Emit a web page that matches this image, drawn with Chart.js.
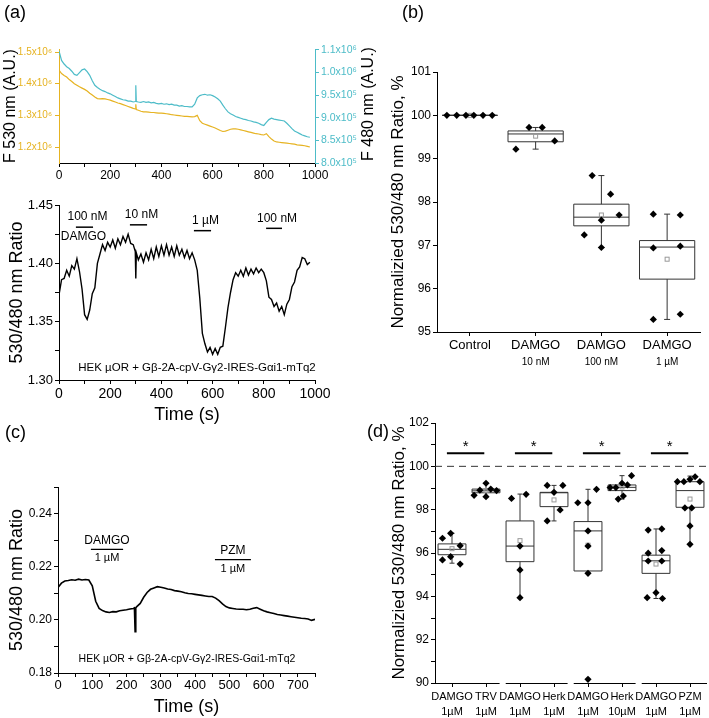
<!DOCTYPE html>
<html>
<head>
<meta charset="utf-8">
<script src="https://cdn.jsdelivr.net/npm/chart.js@4.4.1/dist/chart.umd.min.js"></script>
<style>
body { margin: 0; background: #fff; }
#wrap { position: relative; width: 709px; height: 718px; }
#wrap canvas { position: absolute; left: 0; top: 0; }
</style>
</head>
<body>
<div id="wrap">
  <canvas id="aTop" width="709" height="718"></canvas>
  <canvas id="aBot" width="709" height="718"></canvas>
  <canvas id="bBox" width="709" height="718"></canvas>
  <canvas id="cTrace" width="709" height="718"></canvas>
  <canvas id="dBox" width="709" height="718"></canvas>
</div>
<script>
// ---- panel (a): time course, 530 / 480 channels and ratio ----
var timeA = [0,10,20,30,40,50,60,70,80,90,100,110,120,130,140,150,160,170,180,190,
  200,210,220,230,240,250,260,270,280,290,298,300,302,310,320,330,340,350,360,370,
  380,390,400,410,420,430,440,450,460,470,480,490,500,510,520,530,540,550,560,570,
  580,590,600,610,620,630,640,650,660,670,680,690,700,710,720,730,740,750,760,770,
  780,790,800,810,820,830,840,850,860,870,880,890,900,910,920,930,940,950,960,970,980];
var f530 = [1.443,1.432,1.426,1.421,1.413,1.407,1.400,1.395,1.390,1.386,
  1.382,1.377,1.370,1.364,1.358,1.353,1.352,1.353,1.352,1.350,
  1.348,1.345,1.342,1.339,1.337,1.334,1.331,1.328,1.325,1.322,
  1.320,1.335,1.318,
  1.316,1.313,1.311,1.311,1.310,1.309,1.309,1.308,1.307,1.307,
  1.306,1.305,1.304,1.302,1.301,1.300,1.299,1.298,1.297,1.297,
  1.296,1.295,1.296,1.300,1.283,1.275,1.272,1.269,1.266,1.263,
  1.260,1.256,1.252,1.249,1.250,1.253,1.256,1.257,1.257,1.256,
  1.254,1.252,1.250,1.248,1.246,1.244,1.242,1.241,1.239,1.238,
  1.242,1.233,1.225,1.219,1.216,1.215,1.214,1.213,1.212,1.211,
  1.210,1.209,1.207,1.206,1.205,1.204,1.202,1.200];
var f480 = [1.048,1.027,1.019,1.013,1.009,1.003,0.996,0.994,1.000,1.006,
  1.008,1.002,0.994,0.982,0.972,0.967,0.963,0.960,0.958,0.955,
  0.953,0.950,0.947,0.944,0.942,0.940,0.939,0.937,0.937,0.935,
  0.936,0.972,0.936,
  0.935,0.934,0.936,0.934,0.935,0.933,0.934,0.932,0.931,0.932,
  0.930,0.931,0.929,0.930,0.928,0.928,0.926,0.927,0.925,0.925,
  0.924,0.924,0.930,0.944,0.949,0.951,0.952,0.950,0.951,0.949,
  0.946,0.942,0.937,0.928,0.920,0.913,0.909,0.906,0.903,0.901,
  0.899,0.897,0.896,0.894,0.893,0.891,0.890,0.888,0.885,0.883,
  0.890,0.896,0.899,0.897,0.896,0.895,0.894,0.893,0.888,0.882,
  0.876,0.871,0.868,0.865,0.862,0.860,0.858,0.857];
var ratioA = [1.373,1.386,1.387,1.394,1.389,1.398,1.395,1.404,1.393,1.378,
  1.356,1.352,1.360,1.374,1.379,1.400,1.408,1.416,1.411,1.418,
  1.414,1.420,1.413,1.421,1.416,1.423,1.418,1.425,1.417,1.416,
  1.410,1.387,1.409,
  1.403,1.408,1.401,1.409,1.403,1.412,1.404,1.414,1.406,1.415,
  1.407,1.416,1.407,1.414,1.406,1.415,1.407,1.412,1.405,1.411,
  1.404,1.409,1.403,1.394,1.370,1.340,1.331,1.324,1.328,1.322,
  1.327,1.322,1.328,1.329,1.345,1.362,1.375,1.386,1.392,1.389,
  1.394,1.389,1.396,1.390,1.395,1.391,1.396,1.392,1.395,1.392,
  1.385,1.371,1.369,1.363,1.366,1.359,1.363,1.356,1.365,1.369,
  1.380,1.384,1.394,1.397,1.405,1.404,1.399,1.401];

var aXTicks = [0,100,200,300,400,500,600,700,800,900,1000];
var aXLabels = ['0','','200','','400','','600','','800','','1000'];
var a530Ticks = [1.2,1.3,1.4,1.5];
var a530Labels = ['1.2x10\u2076','1.3x10\u2076','1.4x10\u2076','1.5x10\u2076'];
var a480Ticks = [0.8,0.85,0.9,0.95,1.0,1.05];
var a480Labels = ['8.0x10\u2075','8.5x10\u2075','9.0x10\u2075','9.5x10\u2075','1.0x10\u2076','1.1x10\u2076'];
var aRatioTicks = [1.30,1.325,1.35,1.375,1.40,1.425,1.45];
var aRatioLabels = ['1.30','','1.35','','1.40','','1.45'];

var drugA = ['100 nM','10 nM','1 \u00b5M','100 nM'];
var drugAStart = [66,277,527,809];
var drugAEnd = [133,344,594,871];
var drugALevel = [1.431,1.433,1.428,1.430];

// ---- panel (b): box plots ----
var bNames = ['Control','DAMGO','DAMGO','DAMGO'];
var bConc = ['','10 nM','100 nM','1 \u00b5M'];
var bQ1 = [100,99.39,97.45,96.22];
var bMed = [100,99.57,97.65,96.96];
var bQ3 = [100,99.64,97.95,97.11];
var bLo = [100,99.22,96.95,95.29];
var bHi = [100,99.72,98.61,97.72];
var bMean = [100,99.52,97.70,96.68];
var bVals = [[100,100,100,100,100,100],[99.72,99.72,99.22,99.41],
  [98.61,98.18,97.70,97.58,97.24,96.95],[97.72,97.70,96.94,96.98,95.29,95.41]];
var bJitter = [[-0.35,-0.2,-0.06,0.06,0.2,0.34],[-0.1,0.1,-0.3,0.29],
  [-0.14,0.14,0.27,0,-0.26,0],[-0.21,0.2,-0.21,0.2,-0.21,0.2]];
var bYTicks = [95,96,97,98,99,100,101];

// ---- panel (c): time course ----
var timeC = [0,10,20,30,40,50,60,70,80,90,100,110,120,130,140,150,160,170,180,190,200,210,220,
  223,225,227,230,240,250,260,270,280,290,300,310,320,330,340,350,360,370,380,390,400,410,420,
  430,440,450,460,470,480,490,500,510,520,530,540,550,560,570,580,590,600,610,620,
  630,640,650,660,670,680,690,700,710,720,730,740,750];
var ratioC = [0.2122,0.2138,0.2146,0.2148,0.2151,0.2149,0.2153,0.2150,0.2152,0.2150,
  0.2128,0.2070,0.2043,0.2035,0.2030,0.2028,0.2031,0.2030,0.2034,0.2036,
  0.2038,0.2041,0.2043,
  0.2045,0.1955,0.2045,
  0.2050,0.2062,0.2085,0.2103,0.2115,0.2120,0.2125,0.2123,0.2120,0.2116,
  0.2114,0.2110,0.2108,0.2106,0.2102,0.2099,0.2098,0.2096,0.2094,0.2092,
  0.2090,0.2088,0.2088,0.2082,0.2072,0.2060,0.2050,0.2045,0.2043,0.2041,
  0.2040,0.2040,0.2038,0.2040,0.2044,0.2046,0.2040,0.2034,0.2030,0.2027,
  0.2024,0.2020,0.2018,0.2016,0.2014,0.2012,0.2010,0.2008,0.2006,0.2005,
  0.2003,0.1998,0.2002];
var cXTicks = [0,50,100,150,200,250,300,350,400,450,500,550,600,650,700,750];
var cXLabels = ['0','','100','','200','','300','','400','','500','','600','','700',''];
var cYTicks = [0.18,0.19,0.20,0.21,0.22,0.23,0.24,0.25];
var cYLabels = ['0.18','','0.20','','0.22','','0.24',''];
var drugC = ['DAMGO','PZM'];
var drugCConc = ['1 \u00b5M','1 \u00b5M'];
var drugCStart = [96,458];
var drugCEnd = [190,563];
var drugCLevel = [0.2265,0.2227];

// ---- panel (d): paired box plots ----
var dDrug = ['DAMGO','TRV','DAMGO','Herk','DAMGO','Herk','DAMGO','PZM'];
var dConc = ['1\u00b5M','1\u00b5M','1\u00b5M','1\u00b5M','1\u00b5M','10\u00b5M','1\u00b5M','1\u00b5M'];
var dQ1 = [95.92,98.78,95.60,98.14,95.17,98.88,95.06,98.11];
var dMed = [96.17,98.87,96.32,98.78,97.02,99.03,95.64,98.88];
var dQ3 = [96.42,98.95,97.48,98.80,97.45,99.14,95.90,99.29];
var dLo = [95.53,98.60,93.94,97.48,95.06,98.49,93.90,96.40];
var dHi = [96.91,99.22,98.72,99.12,98.94,99.57,97.11,99.55];
var dMean = [96.20,98.88,96.57,98.45,96.36,99.05,95.49,98.49];
var dVals = [[96.68,96.91,96.34,95.68,95.83,95.49],
  [99.22,98.90,98.95,98.88,98.66,98.60],
  [98.52,98.71,96.32,95.22,93.94],
  [99.12,98.80,99.12,97.99,97.48],
  [98.32,98.32,98.94,97.02,96.32,95.06,90.17],
  [99.02,99.02,99.22,99.14,99.57,98.49,98.63],
  [97.06,97.11,95.99,96.11,95.63,95.63,93.94,94.17,93.90],
  [99.29,99.29,99.40,99.52,99.29,98.08,98.08,97.25,96.40]];
var dJitter = [[-0.28,-0.04,0.24,-0.28,-0.04,0.24],
  [0,-0.18,0.14,0.31,-0.35,0],
  [-0.25,0.18,0,0,0],
  [-0.2,0,0.26,0.18,-0.2],
  [-0.3,0,0.25,0,0,0,0],
  [-0.35,-0.18,0,0.16,0.28,-0.11,0.04],
  [-0.23,0.17,-0.23,0.17,-0.23,0.17,-0.26,0,0.19],
  [-0.37,-0.18,0,0.15,0.29,-0.15,0.05,0,0]];
var dPairs = [[0,1],[2,3],[4,5],[6,7]];
var dSigLevel = 100.6;
var dYTicks = [90,91,92,93,94,95,96,97,98,99,100,101,102];

var YEL = '#e6b322';
var CYAN = '#4dbcc8';
var SANS = "'Liberation Sans', Arial, sans-serif";
var NARROW = "'Liberation Sans Narrow', 'Liberation Sans', Arial, sans-serif";
var W = 709, H = 718;

function pairs(xs, ys) {
  return xs.map(function (x, i) { return { x: x, y: ys[i] }; });
}

function pad(area, leftW, bottomH, rightW) {
  return { left: area[0] - leftW, top: area[1], right: W - area[2] - (rightW || 0), bottom: H - area[3] - bottomH };
}

function scale(o) {
  var c = o.color || '#000';
  return {
    type: 'linear', position: o.pos, min: o.min, max: o.max,
    afterBuildTicks: function (s) {
      s.ticks = o.ticks.map(function (v) { return { value: v }; });
    },
    afterFit: function (s) {
      if (o.pos === 'bottom') { s.height = o.size; s.paddingLeft = 0; s.paddingRight = 0; }
      else { s.width = o.size; s.paddingTop = 0; s.paddingBottom = 0; }
    },
    grid: { drawOnChartArea: false, drawTicks: true, tickLength: 4, color: c, tickColor: c },
    border: { display: o.border !== false, color: c, width: 1 },
    ticks: {
      color: c, font: o.font, padding: o.tpad == null ? 2 : o.tpad,
      autoSkip: false, maxRotation: 0, minRotation: 0,
      callback: function (v, i) { return o.labels[i]; }
    },
    title: o.title ? { display: true, text: o.title, color: '#000', font: o.tfont, padding: 0 } : { display: false }
  };
}

function base(extra) {
  var o = {
    responsive: false, animation: false, events: [],
    plugins: { legend: { display: false }, tooltip: { enabled: false } },
    elements: { point: { radius: 0 }, line: { borderWidth: 1.2, tension: 0 } }
  };
  for (var k in extra) o[k] = extra[k];
  return o;
}

function letter(ctx, txt, x, y) {
  ctx.save();
  ctx.fillStyle = '#000';
  ctx.font = '18px ' + SANS;
  ctx.textAlign = 'left';
  ctx.textBaseline = 'middle';
  ctx.fillText(txt, x, y);
  ctx.restore();
}

// box drawing shared by (b) and (d)
function boxPlugin(st, half, cap) {
  return {
    id: 'boxes',
    beforeDatasetsDraw: function (chart) {
      var ctx = chart.ctx, xs = chart.scales.x, ys = chart.scales.y;
      ctx.save();
      ctx.strokeStyle = '#333';
      ctx.lineWidth = 1;
      st.q1.forEach(function (q1, i) {
        var cx = xs.getPixelForValue(i);
        var l = xs.getPixelForValue(i - half), r = xs.getPixelForValue(i + half);
        var y1 = ys.getPixelForValue(q1), y3 = ys.getPixelForValue(st.q3[i]);
        var ym = ys.getPixelForValue(st.med[i]);
        var ylo = ys.getPixelForValue(st.lo[i]), yhi = ys.getPixelForValue(st.hi[i]);
        ctx.beginPath();
        ctx.rect(l, y3, r - l, y1 - y3);
        ctx.moveTo(l, ym); ctx.lineTo(r, ym);
        ctx.moveTo(cx, y3); ctx.lineTo(cx, yhi);
        ctx.moveTo(cx, y1); ctx.lineTo(cx, ylo);
        ctx.moveTo(cx - cap, yhi); ctx.lineTo(cx + cap, yhi);
        ctx.moveTo(cx - cap, ylo); ctx.lineTo(cx + cap, ylo);
        ctx.stroke();
        var ymean = ys.getPixelForValue(st.mean[i]);
        ctx.save();
        ctx.strokeStyle = '#999';
        ctx.strokeRect(cx - 2, ymean - 2, 4, 4);
        ctx.restore();
      });
      ctx.restore();
    }
  };
}

function scatterData(vals, jit) {
  var out = [];
  vals.forEach(function (g, i) {
    g.forEach(function (v, j) { out.push({ x: i + jit[i][j], y: v }); });
  });
  return out;
}

// ---------------- (a) top ----------------
new Chart(document.getElementById('aTop'), {
  type: 'line',
  data: {
    datasets: [
      { data: pairs(timeA, f530), borderColor: YEL, yAxisID: 'y' },
      { data: pairs(timeA, f480), borderColor: CYAN, yAxisID: 'y2' }
    ]
  },
  options: base({
    layout: { autoPadding: false, padding: pad([59, 49, 315, 163], 58, 20, 60) },
    scales: {
      x: scale({ pos: 'bottom', min: 0, max: 1000, ticks: aXTicks, labels: aXLabels, size: 20,
        font: { family: NARROW, size: 12 }, tpad: 1 }),
      y: scale({ pos: 'left', min: 1.1495, max: 1.5095, ticks: a530Ticks, labels: a530Labels, size: 58,
        color: YEL, font: { family: NARROW, size: 10 }, tpad: 3,
        title: 'F 530 nm (A.U.)', tfont: { family: SANS, size: 16 } }),
      y2: scale({ pos: 'right', min: 0.8, max: 1.0522, ticks: a480Ticks, labels: a480Labels, size: 60,
        color: CYAN, font: { family: NARROW, size: 10.5 }, tpad: 2 })
    }
  }),
  plugins: [{
    id: 'aTopText',
    afterDraw: function (chart) {
      var ctx = chart.ctx;
      letter(ctx, '(a)', 4, 13);
      ctx.save();
      ctx.translate(369, 104);
      ctx.rotate(-Math.PI / 2);
      ctx.fillStyle = '#000';
      ctx.font = '16px ' + SANS;
      ctx.textAlign = 'center';
      ctx.textBaseline = 'middle';
      ctx.fillText('F 480 nm (A.U.)', 0, 0);
      ctx.restore();
    }
  }]
});

// ---------------- (a) bottom ----------------
new Chart(document.getElementById('aBot'), {
  type: 'line',
  data: { datasets: [{ data: pairs(timeA, ratioA), borderColor: '#000', borderWidth: 1.4 }] },
  options: base({
    layout: { autoPadding: false, padding: pad([59, 205, 315, 380], 53, 46) },
    scales: {
      x: scale({ pos: 'bottom', min: 0, max: 1000, ticks: aXTicks, labels: aXLabels, size: 46,
        font: { family: SANS, size: 14 }, tpad: 2,
        title: 'Time (s)', tfont: { family: SANS, size: 18 } }),
      y: scale({ pos: 'left', min: 1.30, max: 1.45, ticks: aRatioTicks, labels: aRatioLabels, size: 53,
        font: { family: NARROW, size: 13 }, tpad: 2,
        title: '530/480 nm Ratio', tfont: { family: SANS, size: 18 } })
    }
  }),
  plugins: [{
    id: 'aBotText',
    afterDraw: function (chart) {
      var ctx = chart.ctx, xs = chart.scales.x, ys = chart.scales.y;
      ctx.save();
      ctx.strokeStyle = '#000';
      ctx.fillStyle = '#000';
      ctx.lineWidth = 1.5;
      ctx.font = '12px ' + NARROW;
      ctx.textAlign = 'center';
      ctx.textBaseline = 'middle';
      drugA.forEach(function (name, i) {
        var x1 = xs.getPixelForValue(drugAStart[i]), x2 = xs.getPixelForValue(drugAEnd[i]);
        var y = ys.getPixelForValue(drugALevel[i]);
        ctx.beginPath(); ctx.moveTo(x1, y); ctx.lineTo(x2, y); ctx.stroke();
        ctx.fillText(name, (x1 + x2) / 2 + 3, y - 10);
        if (i === 0) ctx.fillText('DAMGO', (x1 + x2) / 2 - 1, y + 10);
      });
      ctx.font = '11.5px ' + NARROW;
      ctx.fillText('HEK \u00b5OR + G\u03b2-2A-cpV-G\u03b32-IRES-G\u03b1i1-mTq2', 197, 368);
      ctx.restore();
    }
  }]
});

// ---------------- (b) ----------------
new Chart(document.getElementById('bBox'), {
  type: 'scatter',
  data: {
    datasets: [{ data: scatterData(bVals, bJitter), pointStyle: 'rectRot', pointRadius: 3.6,
      backgroundColor: '#000', borderColor: '#000', borderWidth: 0 }]
  },
  options: base({
    layout: { autoPadding: false, padding: pad([437, 72, 700, 332], 49, 40) },
    scales: {
      x: scale({ pos: 'bottom', min: -0.5, max: 3.5, ticks: [0, 1, 2, 3], labels: bNames, size: 40,
        font: { family: SANS, size: 13 }, tpad: 2 }),
      y: scale({ pos: 'left', min: 95, max: 101, ticks: bYTicks, labels: bYTicks.map(String), size: 49,
        font: { family: NARROW, size: 12 }, tpad: 2,
        title: 'Normalizied 530/480 nm Ratio, %', tfont: { family: SANS, size: 17 } })
    }
  }),
  plugins: [boxPlugin({ q1: bQ1, med: bMed, q3: bQ3, lo: bLo, hi: bHi, mean: bMean }, 0.42, 3), {
    id: 'bText',
    afterDraw: function (chart) {
      var ctx = chart.ctx, xs = chart.scales.x;
      letter(ctx, '(b)', 402, 13);
      ctx.save();
      ctx.fillStyle = '#000';
      ctx.font = '10px ' + SANS;
      ctx.textAlign = 'center';
      ctx.textBaseline = 'middle';
      bConc.forEach(function (c, i) { ctx.fillText(c, xs.getPixelForValue(i), 362); });
      ctx.restore();
    }
  }]
});

// ---------------- (c) ----------------
new Chart(document.getElementById('cTrace'), {
  type: 'line',
  data: { datasets: [{ data: pairs(timeC, ratioC), borderColor: '#000', borderWidth: 1.6 }] },
  options: base({
    layout: { autoPadding: false, padding: pad([58, 487, 315, 673], 52, 45) },
    scales: {
      x: scale({ pos: 'bottom', min: 0, max: 750, ticks: cXTicks, labels: cXLabels, size: 45,
        font: { family: NARROW, size: 13 }, tpad: 1,
        title: 'Time (s)', tfont: { family: SANS, size: 18 } }),
      y: scale({ pos: 'left', min: 0.18, max: 0.25, ticks: cYTicks, labels: cYLabels, size: 52,
        font: { family: NARROW, size: 12 }, tpad: 2,
        title: '530/480 nm Ratio', tfont: { family: SANS, size: 18 } })
    }
  }),
  plugins: [{
    id: 'cText',
    afterDraw: function (chart) {
      var ctx = chart.ctx, xs = chart.scales.x, ys = chart.scales.y;
      letter(ctx, '(c)', 5, 433);
      ctx.save();
      ctx.strokeStyle = '#000';
      ctx.fillStyle = '#000';
      ctx.lineWidth = 1.2;
      ctx.textAlign = 'center';
      ctx.textBaseline = 'middle';
      drugC.forEach(function (name, i) {
        var x1 = xs.getPixelForValue(drugCStart[i]), x2 = xs.getPixelForValue(drugCEnd[i]);
        var y = ys.getPixelForValue(drugCLevel[i]);
        ctx.beginPath(); ctx.moveTo(x1, y); ctx.lineTo(x2, y); ctx.stroke();
        ctx.font = '12px ' + NARROW;
        ctx.fillText(name, (x1 + x2) / 2, y - 9);
        ctx.font = '11px ' + NARROW;
        ctx.fillText(drugCConc[i], (x1 + x2) / 2, y + 9);
      });
      ctx.font = '10.5px ' + NARROW;
      ctx.fillText('HEK \u00b5OR + G\u03b2-2A-cpV-G\u03b32-IRES-G\u03b1i1-mTq2', 187, 659);
      ctx.restore();
    }
  }]
});

// ---------------- (d) ----------------
new Chart(document.getElementById('dBox'), {
  type: 'scatter',
  data: {
    datasets: [{ data: scatterData(dVals, dJitter), pointStyle: 'rectRot', pointRadius: 3.6,
      backgroundColor: '#000', borderColor: '#000', borderWidth: 0 }]
  },
  options: base({
    layout: { autoPadding: false, padding: pad([435, 423, 707, 683], 46, 34) },
    scales: {
      x: scale({ pos: 'bottom', min: -0.5, max: 7.5, ticks: [0, 1, 2, 3, 4, 5, 6, 7],
        labels: dDrug.map(function (d, i) { return [d, dConc[i]]; }), size: 34, border: false,
        font: { family: SANS, size: 11, lineHeight: 1.35 }, tpad: 3 }),
      y: scale({ pos: 'left', min: 90, max: 102, ticks: dYTicks,
        labels: dYTicks.map(function (v) { return v % 2 === 0 ? String(v) : ''; }), size: 46,
        font: { family: NARROW, size: 12 }, tpad: 2,
        title: 'Normalizied 530/480 nm Ratio, %', tfont: { family: SANS, size: 17 } })
    }
  }),
  plugins: [boxPlugin({ q1: dQ1, med: dMed, q3: dQ3, lo: dLo, hi: dHi, mean: dMean }, 0.41, 2.5), {
    id: 'dText',
    afterDraw: function (chart) {
      var ctx = chart.ctx, xs = chart.scales.x, ys = chart.scales.y, a = chart.chartArea;
      letter(ctx, '(d)', 367, 432);
      ctx.save();
      ctx.strokeStyle = '#333';
      ctx.lineWidth = 1;
      ctx.setLineDash([7, 5]);
      var y100 = ys.getPixelForValue(100);
      ctx.beginPath(); ctx.moveTo(a.left, y100); ctx.lineTo(a.right, y100); ctx.stroke();
      ctx.setLineDash([]);
      ctx.strokeStyle = '#000';
      ctx.fillStyle = '#000';
      ctx.font = '15px ' + SANS;
      ctx.textAlign = 'center';
      ctx.textBaseline = 'middle';
      dPairs.forEach(function (p, k) {
        var ys1 = ys.getPixelForValue(dSigLevel);
        ctx.lineWidth = 2;
        ctx.beginPath();
        ctx.moveTo(xs.getPixelForValue(p[0] - 0.15), ys1);
        ctx.lineTo(xs.getPixelForValue(p[1] - 0.05), ys1);
        ctx.stroke();
        ctx.fillText('*', xs.getPixelForValue(p[0] + 0.4), ys1 - 6);
        // broken bottom axis, one piece per pair
        var s = k === 0 ? -0.5 : p[0] - 0.42;
        var e = k === dPairs.length - 1 ? 7.5 : p[1] + 0.4;
        ctx.lineWidth = 1;
        ctx.beginPath();
        ctx.moveTo(xs.getPixelForValue(s), a.bottom + 0.5);
        ctx.lineTo(xs.getPixelForValue(e), a.bottom + 0.5);
        ctx.stroke();
      });
      ctx.restore();
    }
  }]
});
</script>
</body>
</html>
